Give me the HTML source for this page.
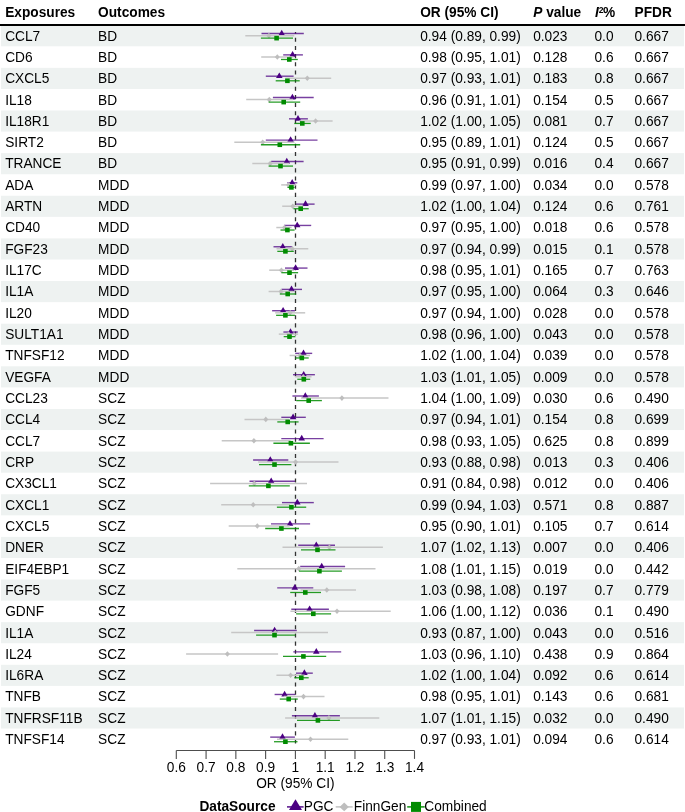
<!DOCTYPE html>
<html><head><meta charset="utf-8"><style>html,body{margin:0;padding:0;background:#fff;overflow:hidden}svg{display:block;will-change:transform}text{font-family:"Liberation Sans",sans-serif}</style></head>
<body><svg width="685" height="812" viewBox="0 0 685 812">
<rect width="685" height="812" fill="#fff"/>
<rect x="1" y="25.20" width="683" height="21.10" fill="#EEF2F1"/>
<rect x="1" y="67.84" width="683" height="21.10" fill="#EEF2F1"/>
<rect x="1" y="110.48" width="683" height="21.10" fill="#EEF2F1"/>
<rect x="1" y="153.12" width="683" height="21.10" fill="#EEF2F1"/>
<rect x="1" y="195.76" width="683" height="21.10" fill="#EEF2F1"/>
<rect x="1" y="238.40" width="683" height="21.10" fill="#EEF2F1"/>
<rect x="1" y="281.04" width="683" height="21.10" fill="#EEF2F1"/>
<rect x="1" y="323.68" width="683" height="21.10" fill="#EEF2F1"/>
<rect x="1" y="366.32" width="683" height="21.10" fill="#EEF2F1"/>
<rect x="1" y="408.96" width="683" height="21.10" fill="#EEF2F1"/>
<rect x="1" y="451.60" width="683" height="21.10" fill="#EEF2F1"/>
<rect x="1" y="494.24" width="683" height="21.10" fill="#EEF2F1"/>
<rect x="1" y="536.88" width="683" height="21.10" fill="#EEF2F1"/>
<rect x="1" y="579.52" width="683" height="21.10" fill="#EEF2F1"/>
<rect x="1" y="622.16" width="683" height="21.10" fill="#EEF2F1"/>
<rect x="1" y="664.80" width="683" height="21.10" fill="#EEF2F1"/>
<rect x="1" y="707.44" width="683" height="21.10" fill="#EEF2F1"/>
<rect x="0" y="24" width="685" height="2" fill="#000"/>
<g font-family="Liberation Sans" font-size="13.7" font-weight="bold" fill="#000">
<text transform="translate(5.20,17.10) scale(1,1.044)" >Exposures</text>
<text transform="translate(98.10,17.10) scale(1,1.044)" >Outcomes</text>
<text transform="translate(420.20,17.10) scale(1,1.044)" >OR (95% CI)</text>
<text transform="translate(533.20,17.10) scale(1,1.044)" ><tspan font-style="italic">P</tspan> value</text>
<text transform="translate(594.90,17.10) scale(1,1.044)" ><tspan font-style="italic">I</tspan></text>
<text transform="translate(598.80,12.70) scale(1,1.044)" font-size="8.6">2</text>
<text transform="translate(602.90,17.10) scale(1,1.044)" >%</text>
<text transform="translate(634.50,17.10) scale(1,1.044)" >PFDR</text>
</g>
<g font-family="Liberation Sans" font-size="13.7" fill="#000">
<text transform="translate(5.20,40.56) scale(1,1.044)" >CCL7</text>
<text transform="translate(98.10,40.56) scale(1,1.044)" >BD</text>
<text transform="translate(420.20,40.56) scale(1,1.044)" >0.94 (0.89, 0.99)</text>
<text transform="translate(533.20,40.56) scale(1,1.044)" >0.023</text>
<text transform="translate(594.50,40.56) scale(1,1.044)" >0.0</text>
<text transform="translate(634.50,40.56) scale(1,1.044)" >0.667</text>
<text transform="translate(5.20,61.88) scale(1,1.044)" >CD6</text>
<text transform="translate(98.10,61.88) scale(1,1.044)" >BD</text>
<text transform="translate(420.20,61.88) scale(1,1.044)" >0.98 (0.95, 1.01)</text>
<text transform="translate(533.20,61.88) scale(1,1.044)" >0.128</text>
<text transform="translate(594.50,61.88) scale(1,1.044)" >0.6</text>
<text transform="translate(634.50,61.88) scale(1,1.044)" >0.667</text>
<text transform="translate(5.20,83.20) scale(1,1.044)" >CXCL5</text>
<text transform="translate(98.10,83.20) scale(1,1.044)" >BD</text>
<text transform="translate(420.20,83.20) scale(1,1.044)" >0.97 (0.93, 1.01)</text>
<text transform="translate(533.20,83.20) scale(1,1.044)" >0.183</text>
<text transform="translate(594.50,83.20) scale(1,1.044)" >0.8</text>
<text transform="translate(634.50,83.20) scale(1,1.044)" >0.667</text>
<text transform="translate(5.20,104.52) scale(1,1.044)" >IL18</text>
<text transform="translate(98.10,104.52) scale(1,1.044)" >BD</text>
<text transform="translate(420.20,104.52) scale(1,1.044)" >0.96 (0.91, 1.01)</text>
<text transform="translate(533.20,104.52) scale(1,1.044)" >0.154</text>
<text transform="translate(594.50,104.52) scale(1,1.044)" >0.5</text>
<text transform="translate(634.50,104.52) scale(1,1.044)" >0.667</text>
<text transform="translate(5.20,125.84) scale(1,1.044)" >IL18R1</text>
<text transform="translate(98.10,125.84) scale(1,1.044)" >BD</text>
<text transform="translate(420.20,125.84) scale(1,1.044)" >1.02 (1.00, 1.05)</text>
<text transform="translate(533.20,125.84) scale(1,1.044)" >0.081</text>
<text transform="translate(594.50,125.84) scale(1,1.044)" >0.7</text>
<text transform="translate(634.50,125.84) scale(1,1.044)" >0.667</text>
<text transform="translate(5.20,147.16) scale(1,1.044)" >SIRT2</text>
<text transform="translate(98.10,147.16) scale(1,1.044)" >BD</text>
<text transform="translate(420.20,147.16) scale(1,1.044)" >0.95 (0.89, 1.01)</text>
<text transform="translate(533.20,147.16) scale(1,1.044)" >0.124</text>
<text transform="translate(594.50,147.16) scale(1,1.044)" >0.5</text>
<text transform="translate(634.50,147.16) scale(1,1.044)" >0.667</text>
<text transform="translate(5.20,168.48) scale(1,1.044)" >TRANCE</text>
<text transform="translate(98.10,168.48) scale(1,1.044)" >BD</text>
<text transform="translate(420.20,168.48) scale(1,1.044)" >0.95 (0.91, 0.99)</text>
<text transform="translate(533.20,168.48) scale(1,1.044)" >0.016</text>
<text transform="translate(594.50,168.48) scale(1,1.044)" >0.4</text>
<text transform="translate(634.50,168.48) scale(1,1.044)" >0.667</text>
<text transform="translate(5.20,189.80) scale(1,1.044)" >ADA</text>
<text transform="translate(98.10,189.80) scale(1,1.044)" >MDD</text>
<text transform="translate(420.20,189.80) scale(1,1.044)" >0.99 (0.97, 1.00)</text>
<text transform="translate(533.20,189.80) scale(1,1.044)" >0.034</text>
<text transform="translate(594.50,189.80) scale(1,1.044)" >0.0</text>
<text transform="translate(634.50,189.80) scale(1,1.044)" >0.578</text>
<text transform="translate(5.20,211.12) scale(1,1.044)" >ARTN</text>
<text transform="translate(98.10,211.12) scale(1,1.044)" >MDD</text>
<text transform="translate(420.20,211.12) scale(1,1.044)" >1.02 (1.00, 1.04)</text>
<text transform="translate(533.20,211.12) scale(1,1.044)" >0.124</text>
<text transform="translate(594.50,211.12) scale(1,1.044)" >0.6</text>
<text transform="translate(634.50,211.12) scale(1,1.044)" >0.761</text>
<text transform="translate(5.20,232.44) scale(1,1.044)" >CD40</text>
<text transform="translate(98.10,232.44) scale(1,1.044)" >MDD</text>
<text transform="translate(420.20,232.44) scale(1,1.044)" >0.97 (0.95, 1.00)</text>
<text transform="translate(533.20,232.44) scale(1,1.044)" >0.018</text>
<text transform="translate(594.50,232.44) scale(1,1.044)" >0.6</text>
<text transform="translate(634.50,232.44) scale(1,1.044)" >0.578</text>
<text transform="translate(5.20,253.76) scale(1,1.044)" >FGF23</text>
<text transform="translate(98.10,253.76) scale(1,1.044)" >MDD</text>
<text transform="translate(420.20,253.76) scale(1,1.044)" >0.97 (0.94, 0.99)</text>
<text transform="translate(533.20,253.76) scale(1,1.044)" >0.015</text>
<text transform="translate(594.50,253.76) scale(1,1.044)" >0.1</text>
<text transform="translate(634.50,253.76) scale(1,1.044)" >0.578</text>
<text transform="translate(5.20,275.08) scale(1,1.044)" >IL17C</text>
<text transform="translate(98.10,275.08) scale(1,1.044)" >MDD</text>
<text transform="translate(420.20,275.08) scale(1,1.044)" >0.98 (0.95, 1.01)</text>
<text transform="translate(533.20,275.08) scale(1,1.044)" >0.165</text>
<text transform="translate(594.50,275.08) scale(1,1.044)" >0.7</text>
<text transform="translate(634.50,275.08) scale(1,1.044)" >0.763</text>
<text transform="translate(5.20,296.40) scale(1,1.044)" >IL1A</text>
<text transform="translate(98.10,296.40) scale(1,1.044)" >MDD</text>
<text transform="translate(420.20,296.40) scale(1,1.044)" >0.97 (0.95, 1.00)</text>
<text transform="translate(533.20,296.40) scale(1,1.044)" >0.064</text>
<text transform="translate(594.50,296.40) scale(1,1.044)" >0.3</text>
<text transform="translate(634.50,296.40) scale(1,1.044)" >0.646</text>
<text transform="translate(5.20,317.72) scale(1,1.044)" >IL20</text>
<text transform="translate(98.10,317.72) scale(1,1.044)" >MDD</text>
<text transform="translate(420.20,317.72) scale(1,1.044)" >0.97 (0.94, 1.00)</text>
<text transform="translate(533.20,317.72) scale(1,1.044)" >0.028</text>
<text transform="translate(594.50,317.72) scale(1,1.044)" >0.0</text>
<text transform="translate(634.50,317.72) scale(1,1.044)" >0.578</text>
<text transform="translate(5.20,339.04) scale(1,1.044)" >SULT1A1</text>
<text transform="translate(98.10,339.04) scale(1,1.044)" >MDD</text>
<text transform="translate(420.20,339.04) scale(1,1.044)" >0.98 (0.96, 1.00)</text>
<text transform="translate(533.20,339.04) scale(1,1.044)" >0.043</text>
<text transform="translate(594.50,339.04) scale(1,1.044)" >0.0</text>
<text transform="translate(634.50,339.04) scale(1,1.044)" >0.578</text>
<text transform="translate(5.20,360.36) scale(1,1.044)" >TNFSF12</text>
<text transform="translate(98.10,360.36) scale(1,1.044)" >MDD</text>
<text transform="translate(420.20,360.36) scale(1,1.044)" >1.02 (1.00, 1.04)</text>
<text transform="translate(533.20,360.36) scale(1,1.044)" >0.039</text>
<text transform="translate(594.50,360.36) scale(1,1.044)" >0.0</text>
<text transform="translate(634.50,360.36) scale(1,1.044)" >0.578</text>
<text transform="translate(5.20,381.68) scale(1,1.044)" >VEGFA</text>
<text transform="translate(98.10,381.68) scale(1,1.044)" >MDD</text>
<text transform="translate(420.20,381.68) scale(1,1.044)" >1.03 (1.01, 1.05)</text>
<text transform="translate(533.20,381.68) scale(1,1.044)" >0.009</text>
<text transform="translate(594.50,381.68) scale(1,1.044)" >0.0</text>
<text transform="translate(634.50,381.68) scale(1,1.044)" >0.578</text>
<text transform="translate(5.20,403.00) scale(1,1.044)" >CCL23</text>
<text transform="translate(98.10,403.00) scale(1,1.044)" >SCZ</text>
<text transform="translate(420.20,403.00) scale(1,1.044)" >1.04 (1.00, 1.09)</text>
<text transform="translate(533.20,403.00) scale(1,1.044)" >0.030</text>
<text transform="translate(594.50,403.00) scale(1,1.044)" >0.6</text>
<text transform="translate(634.50,403.00) scale(1,1.044)" >0.490</text>
<text transform="translate(5.20,424.32) scale(1,1.044)" >CCL4</text>
<text transform="translate(98.10,424.32) scale(1,1.044)" >SCZ</text>
<text transform="translate(420.20,424.32) scale(1,1.044)" >0.97 (0.94, 1.01)</text>
<text transform="translate(533.20,424.32) scale(1,1.044)" >0.154</text>
<text transform="translate(594.50,424.32) scale(1,1.044)" >0.8</text>
<text transform="translate(634.50,424.32) scale(1,1.044)" >0.699</text>
<text transform="translate(5.20,445.64) scale(1,1.044)" >CCL7</text>
<text transform="translate(98.10,445.64) scale(1,1.044)" >SCZ</text>
<text transform="translate(420.20,445.64) scale(1,1.044)" >0.98 (0.93, 1.05)</text>
<text transform="translate(533.20,445.64) scale(1,1.044)" >0.625</text>
<text transform="translate(594.50,445.64) scale(1,1.044)" >0.8</text>
<text transform="translate(634.50,445.64) scale(1,1.044)" >0.899</text>
<text transform="translate(5.20,466.96) scale(1,1.044)" >CRP</text>
<text transform="translate(98.10,466.96) scale(1,1.044)" >SCZ</text>
<text transform="translate(420.20,466.96) scale(1,1.044)" >0.93 (0.88, 0.98)</text>
<text transform="translate(533.20,466.96) scale(1,1.044)" >0.013</text>
<text transform="translate(594.50,466.96) scale(1,1.044)" >0.3</text>
<text transform="translate(634.50,466.96) scale(1,1.044)" >0.406</text>
<text transform="translate(5.20,488.28) scale(1,1.044)" >CX3CL1</text>
<text transform="translate(98.10,488.28) scale(1,1.044)" >SCZ</text>
<text transform="translate(420.20,488.28) scale(1,1.044)" >0.91 (0.84, 0.98)</text>
<text transform="translate(533.20,488.28) scale(1,1.044)" >0.012</text>
<text transform="translate(594.50,488.28) scale(1,1.044)" >0.0</text>
<text transform="translate(634.50,488.28) scale(1,1.044)" >0.406</text>
<text transform="translate(5.20,509.60) scale(1,1.044)" >CXCL1</text>
<text transform="translate(98.10,509.60) scale(1,1.044)" >SCZ</text>
<text transform="translate(420.20,509.60) scale(1,1.044)" >0.99 (0.94, 1.03)</text>
<text transform="translate(533.20,509.60) scale(1,1.044)" >0.571</text>
<text transform="translate(594.50,509.60) scale(1,1.044)" >0.8</text>
<text transform="translate(634.50,509.60) scale(1,1.044)" >0.887</text>
<text transform="translate(5.20,530.92) scale(1,1.044)" >CXCL5</text>
<text transform="translate(98.10,530.92) scale(1,1.044)" >SCZ</text>
<text transform="translate(420.20,530.92) scale(1,1.044)" >0.95 (0.90, 1.01)</text>
<text transform="translate(533.20,530.92) scale(1,1.044)" >0.105</text>
<text transform="translate(594.50,530.92) scale(1,1.044)" >0.7</text>
<text transform="translate(634.50,530.92) scale(1,1.044)" >0.614</text>
<text transform="translate(5.20,552.24) scale(1,1.044)" >DNER</text>
<text transform="translate(98.10,552.24) scale(1,1.044)" >SCZ</text>
<text transform="translate(420.20,552.24) scale(1,1.044)" >1.07 (1.02, 1.13)</text>
<text transform="translate(533.20,552.24) scale(1,1.044)" >0.007</text>
<text transform="translate(594.50,552.24) scale(1,1.044)" >0.0</text>
<text transform="translate(634.50,552.24) scale(1,1.044)" >0.406</text>
<text transform="translate(5.20,573.56) scale(1,1.044)" >EIF4EBP1</text>
<text transform="translate(98.10,573.56) scale(1,1.044)" >SCZ</text>
<text transform="translate(420.20,573.56) scale(1,1.044)" >1.08 (1.01, 1.15)</text>
<text transform="translate(533.20,573.56) scale(1,1.044)" >0.019</text>
<text transform="translate(594.50,573.56) scale(1,1.044)" >0.0</text>
<text transform="translate(634.50,573.56) scale(1,1.044)" >0.442</text>
<text transform="translate(5.20,594.88) scale(1,1.044)" >FGF5</text>
<text transform="translate(98.10,594.88) scale(1,1.044)" >SCZ</text>
<text transform="translate(420.20,594.88) scale(1,1.044)" >1.03 (0.98, 1.08)</text>
<text transform="translate(533.20,594.88) scale(1,1.044)" >0.197</text>
<text transform="translate(594.50,594.88) scale(1,1.044)" >0.7</text>
<text transform="translate(634.50,594.88) scale(1,1.044)" >0.779</text>
<text transform="translate(5.20,616.20) scale(1,1.044)" >GDNF</text>
<text transform="translate(98.10,616.20) scale(1,1.044)" >SCZ</text>
<text transform="translate(420.20,616.20) scale(1,1.044)" >1.06 (1.00, 1.12)</text>
<text transform="translate(533.20,616.20) scale(1,1.044)" >0.036</text>
<text transform="translate(594.50,616.20) scale(1,1.044)" >0.1</text>
<text transform="translate(634.50,616.20) scale(1,1.044)" >0.490</text>
<text transform="translate(5.20,637.52) scale(1,1.044)" >IL1A</text>
<text transform="translate(98.10,637.52) scale(1,1.044)" >SCZ</text>
<text transform="translate(420.20,637.52) scale(1,1.044)" >0.93 (0.87, 1.00)</text>
<text transform="translate(533.20,637.52) scale(1,1.044)" >0.043</text>
<text transform="translate(594.50,637.52) scale(1,1.044)" >0.0</text>
<text transform="translate(634.50,637.52) scale(1,1.044)" >0.516</text>
<text transform="translate(5.20,658.84) scale(1,1.044)" >IL24</text>
<text transform="translate(98.10,658.84) scale(1,1.044)" >SCZ</text>
<text transform="translate(420.20,658.84) scale(1,1.044)" >1.03 (0.96, 1.10)</text>
<text transform="translate(533.20,658.84) scale(1,1.044)" >0.438</text>
<text transform="translate(594.50,658.84) scale(1,1.044)" >0.9</text>
<text transform="translate(634.50,658.84) scale(1,1.044)" >0.864</text>
<text transform="translate(5.20,680.16) scale(1,1.044)" >IL6RA</text>
<text transform="translate(98.10,680.16) scale(1,1.044)" >SCZ</text>
<text transform="translate(420.20,680.16) scale(1,1.044)" >1.02 (1.00, 1.04)</text>
<text transform="translate(533.20,680.16) scale(1,1.044)" >0.092</text>
<text transform="translate(594.50,680.16) scale(1,1.044)" >0.6</text>
<text transform="translate(634.50,680.16) scale(1,1.044)" >0.614</text>
<text transform="translate(5.20,701.48) scale(1,1.044)" >TNFB</text>
<text transform="translate(98.10,701.48) scale(1,1.044)" >SCZ</text>
<text transform="translate(420.20,701.48) scale(1,1.044)" >0.98 (0.95, 1.01)</text>
<text transform="translate(533.20,701.48) scale(1,1.044)" >0.143</text>
<text transform="translate(594.50,701.48) scale(1,1.044)" >0.6</text>
<text transform="translate(634.50,701.48) scale(1,1.044)" >0.681</text>
<text transform="translate(5.20,722.80) scale(1,1.044)" >TNFRSF11B</text>
<text transform="translate(98.10,722.80) scale(1,1.044)" >SCZ</text>
<text transform="translate(420.20,722.80) scale(1,1.044)" >1.07 (1.01, 1.15)</text>
<text transform="translate(533.20,722.80) scale(1,1.044)" >0.032</text>
<text transform="translate(594.50,722.80) scale(1,1.044)" >0.0</text>
<text transform="translate(634.50,722.80) scale(1,1.044)" >0.490</text>
<text transform="translate(5.20,744.12) scale(1,1.044)" >TNFSF14</text>
<text transform="translate(98.10,744.12) scale(1,1.044)" >SCZ</text>
<text transform="translate(420.20,744.12) scale(1,1.044)" >0.97 (0.93, 1.01)</text>
<text transform="translate(533.20,744.12) scale(1,1.044)" >0.094</text>
<text transform="translate(594.50,744.12) scale(1,1.044)" >0.6</text>
<text transform="translate(634.50,744.12) scale(1,1.044)" >0.614</text>
</g>
<line x1="295.5" y1="743.6" x2="295.5" y2="31.9" stroke="#333" stroke-width="1.3" stroke-dasharray="4.08 4.08"/>
<line x1="261.5" y1="33.56" x2="303.8" y2="33.56" stroke="#4B0082" stroke-width="1.4" stroke-opacity="0.75"/>
<path d="M281.70,29.77L284.98,35.46L278.42,35.46Z" fill="#4B0082"/>
<line x1="245.3" y1="35.66" x2="294.3" y2="35.66" stroke="#C6C6C6" stroke-width="1.5"/>
<path d="M266.40,35.66L268.90,32.86L271.40,35.66L268.90,38.46Z" fill="#BEBEBE"/>
<line x1="260.90" y1="38.16" x2="293.00" y2="38.16" stroke="#008B00" stroke-width="1.3" stroke-opacity="0.85"/>
<rect x="274.30" y="35.86" width="4.60" height="4.60" fill="#008B00"/>
<line x1="283.2" y1="54.88" x2="302.9" y2="54.88" stroke="#4B0082" stroke-width="1.4" stroke-opacity="0.75"/>
<path d="M292.60,51.09L295.88,56.78L289.32,56.78Z" fill="#4B0082"/>
<line x1="261.2" y1="56.98" x2="293.6" y2="56.98" stroke="#C6C6C6" stroke-width="1.5"/>
<path d="M274.80,56.98L277.30,54.18L279.80,56.98L277.30,59.78Z" fill="#BEBEBE"/>
<line x1="281.00" y1="59.48" x2="297.80" y2="59.48" stroke="#008B00" stroke-width="1.3" stroke-opacity="0.85"/>
<rect x="287.00" y="57.18" width="4.60" height="4.60" fill="#008B00"/>
<line x1="265.8" y1="76.20" x2="293.6" y2="76.20" stroke="#4B0082" stroke-width="1.4" stroke-opacity="0.75"/>
<path d="M279.30,72.41L282.58,78.10L276.02,78.10Z" fill="#4B0082"/>
<line x1="285.3" y1="78.30" x2="331.2" y2="78.30" stroke="#C6C6C6" stroke-width="1.5"/>
<path d="M304.80,78.30L307.30,75.50L309.80,78.30L307.30,81.10Z" fill="#BEBEBE"/>
<line x1="275.70" y1="80.80" x2="299.70" y2="80.80" stroke="#008B00" stroke-width="1.3" stroke-opacity="0.85"/>
<rect x="285.10" y="78.50" width="4.60" height="4.60" fill="#008B00"/>
<line x1="272.9" y1="97.52" x2="313.7" y2="97.52" stroke="#4B0082" stroke-width="1.4" stroke-opacity="0.75"/>
<path d="M292.40,93.73L295.68,99.42L289.12,99.42Z" fill="#4B0082"/>
<line x1="246.2" y1="99.62" x2="293.0" y2="99.62" stroke="#C6C6C6" stroke-width="1.5"/>
<path d="M266.80,99.62L269.30,96.82L271.80,99.62L269.30,102.42Z" fill="#BEBEBE"/>
<line x1="268.60" y1="102.12" x2="300.20" y2="102.12" stroke="#008B00" stroke-width="1.3" stroke-opacity="0.85"/>
<rect x="281.40" y="99.82" width="4.60" height="4.60" fill="#008B00"/>
<line x1="289.0" y1="118.84" x2="307.9" y2="118.84" stroke="#4B0082" stroke-width="1.4" stroke-opacity="0.75"/>
<path d="M298.00,115.05L301.28,120.74L294.72,120.74Z" fill="#4B0082"/>
<line x1="299.4" y1="120.94" x2="332.6" y2="120.94" stroke="#C6C6C6" stroke-width="1.5"/>
<path d="M313.10,120.94L315.60,118.14L318.10,120.94L315.60,123.74Z" fill="#BEBEBE"/>
<line x1="294.30" y1="123.44" x2="310.70" y2="123.44" stroke="#008B00" stroke-width="1.3" stroke-opacity="0.85"/>
<rect x="300.00" y="121.14" width="4.60" height="4.60" fill="#008B00"/>
<line x1="265.8" y1="140.16" x2="317.5" y2="140.16" stroke="#4B0082" stroke-width="1.4" stroke-opacity="0.75"/>
<path d="M290.60,136.37L293.88,142.06L287.32,142.06Z" fill="#4B0082"/>
<line x1="234.3" y1="142.26" x2="294.5" y2="142.26" stroke="#C6C6C6" stroke-width="1.5"/>
<path d="M260.20,142.26L262.70,139.46L265.20,142.26L262.70,145.06Z" fill="#BEBEBE"/>
<line x1="260.90" y1="144.76" x2="300.20" y2="144.76" stroke="#008B00" stroke-width="1.3" stroke-opacity="0.85"/>
<rect x="277.50" y="142.46" width="4.60" height="4.60" fill="#008B00"/>
<line x1="271.2" y1="161.48" x2="303.6" y2="161.48" stroke="#4B0082" stroke-width="1.4" stroke-opacity="0.75"/>
<path d="M286.80,157.69L290.08,163.38L283.52,163.38Z" fill="#4B0082"/>
<line x1="252.3" y1="163.58" x2="289.1" y2="163.58" stroke="#C6C6C6" stroke-width="1.5"/>
<path d="M267.70,163.58L270.20,160.78L272.70,163.58L270.20,166.38Z" fill="#BEBEBE"/>
<line x1="268.60" y1="166.08" x2="293.00" y2="166.08" stroke="#008B00" stroke-width="1.3" stroke-opacity="0.85"/>
<rect x="278.20" y="163.78" width="4.60" height="4.60" fill="#008B00"/>
<line x1="287.3" y1="182.80" x2="297.3" y2="182.80" stroke="#4B0082" stroke-width="1.4" stroke-opacity="0.75"/>
<path d="M292.20,179.01L295.48,184.70L288.92,184.70Z" fill="#4B0082"/>
<line x1="281.2" y1="184.90" x2="296.0" y2="184.90" stroke="#C6C6C6" stroke-width="1.5"/>
<path d="M286.10,184.90L288.60,182.10L291.10,184.90L288.60,187.70Z" fill="#BEBEBE"/>
<line x1="287.40" y1="187.40" x2="294.60" y2="187.40" stroke="#008B00" stroke-width="1.3" stroke-opacity="0.85"/>
<rect x="289.10" y="185.10" width="4.60" height="4.60" fill="#008B00"/>
<line x1="296.0" y1="204.12" x2="314.6" y2="204.12" stroke="#4B0082" stroke-width="1.4" stroke-opacity="0.75"/>
<path d="M305.50,200.33L308.78,206.02L302.22,206.02Z" fill="#4B0082"/>
<line x1="282.2" y1="206.22" x2="303.3" y2="206.22" stroke="#C6C6C6" stroke-width="1.5"/>
<path d="M290.30,206.22L292.80,203.42L295.30,206.22L292.80,209.02Z" fill="#BEBEBE"/>
<line x1="293.50" y1="208.72" x2="308.70" y2="208.72" stroke="#008B00" stroke-width="1.3" stroke-opacity="0.85"/>
<rect x="298.40" y="206.42" width="4.60" height="4.60" fill="#008B00"/>
<line x1="284.0" y1="225.44" x2="311.2" y2="225.44" stroke="#4B0082" stroke-width="1.4" stroke-opacity="0.75"/>
<path d="M297.20,221.65L300.48,227.34L293.92,227.34Z" fill="#4B0082"/>
<line x1="276.3" y1="227.54" x2="291.6" y2="227.54" stroke="#C6C6C6" stroke-width="1.5"/>
<path d="M282.00,227.54L284.50,224.74L287.00,227.54L284.50,230.34Z" fill="#BEBEBE"/>
<line x1="280.50" y1="230.04" x2="294.60" y2="230.04" stroke="#008B00" stroke-width="1.3" stroke-opacity="0.85"/>
<rect x="285.10" y="227.74" width="4.60" height="4.60" fill="#008B00"/>
<line x1="273.5" y1="246.76" x2="292.2" y2="246.76" stroke="#4B0082" stroke-width="1.4" stroke-opacity="0.75"/>
<path d="M282.80,242.97L286.08,248.66L279.52,248.66Z" fill="#4B0082"/>
<line x1="276.5" y1="248.86" x2="308.3" y2="248.86" stroke="#C6C6C6" stroke-width="1.5"/>
<path d="M289.70,248.86L292.20,246.06L294.70,248.86L292.20,251.66Z" fill="#BEBEBE"/>
<line x1="277.30" y1="251.36" x2="293.80" y2="251.36" stroke="#008B00" stroke-width="1.3" stroke-opacity="0.85"/>
<rect x="283.10" y="249.06" width="4.60" height="4.60" fill="#008B00"/>
<line x1="285.0" y1="268.08" x2="307.5" y2="268.08" stroke="#4B0082" stroke-width="1.4" stroke-opacity="0.75"/>
<path d="M295.60,264.29L298.88,269.98L292.32,269.98Z" fill="#4B0082"/>
<line x1="269.2" y1="270.18" x2="294.2" y2="270.18" stroke="#C6C6C6" stroke-width="1.5"/>
<path d="M278.90,270.18L281.40,267.38L283.90,270.18L281.40,272.98Z" fill="#BEBEBE"/>
<line x1="281.40" y1="272.68" x2="298.10" y2="272.68" stroke="#008B00" stroke-width="1.3" stroke-opacity="0.85"/>
<rect x="287.20" y="270.38" width="4.60" height="4.60" fill="#008B00"/>
<line x1="281.5" y1="289.40" x2="302.0" y2="289.40" stroke="#4B0082" stroke-width="1.4" stroke-opacity="0.75"/>
<path d="M291.50,285.61L294.78,291.30L288.22,291.30Z" fill="#4B0082"/>
<line x1="268.6" y1="291.50" x2="293.5" y2="291.50" stroke="#C6C6C6" stroke-width="1.5"/>
<path d="M278.50,291.50L281.00,288.70L283.50,291.50L281.00,294.30Z" fill="#BEBEBE"/>
<line x1="279.80" y1="294.00" x2="296.20" y2="294.00" stroke="#008B00" stroke-width="1.3" stroke-opacity="0.85"/>
<rect x="285.40" y="291.70" width="4.60" height="4.60" fill="#008B00"/>
<line x1="272.1" y1="310.72" x2="294.9" y2="310.72" stroke="#4B0082" stroke-width="1.4" stroke-opacity="0.75"/>
<path d="M283.10,306.93L286.38,312.62L279.82,312.62Z" fill="#4B0082"/>
<line x1="275.2" y1="312.82" x2="305.2" y2="312.82" stroke="#C6C6C6" stroke-width="1.5"/>
<path d="M287.70,312.82L290.20,310.02L292.70,312.82L290.20,315.62Z" fill="#BEBEBE"/>
<line x1="276.10" y1="315.32" x2="294.90" y2="315.32" stroke="#008B00" stroke-width="1.3" stroke-opacity="0.85"/>
<rect x="283.10" y="313.02" width="4.60" height="4.60" fill="#008B00"/>
<line x1="283.4" y1="332.04" x2="297.8" y2="332.04" stroke="#4B0082" stroke-width="1.4" stroke-opacity="0.75"/>
<path d="M290.50,328.25L293.78,333.94L287.22,333.94Z" fill="#4B0082"/>
<line x1="278.8" y1="334.14" x2="298.1" y2="334.14" stroke="#C6C6C6" stroke-width="1.5"/>
<path d="M286.10,334.14L288.60,331.34L291.10,334.14L288.60,336.94Z" fill="#BEBEBE"/>
<line x1="283.70" y1="336.64" x2="295.40" y2="336.64" stroke="#008B00" stroke-width="1.3" stroke-opacity="0.85"/>
<rect x="287.20" y="334.34" width="4.60" height="4.60" fill="#008B00"/>
<line x1="295.2" y1="353.36" x2="312.2" y2="353.36" stroke="#4B0082" stroke-width="1.4" stroke-opacity="0.75"/>
<path d="M303.50,349.57L306.78,355.26L300.22,355.26Z" fill="#4B0082"/>
<line x1="289.6" y1="355.46" x2="310.1" y2="355.46" stroke="#C6C6C6" stroke-width="1.5"/>
<path d="M297.30,355.46L299.80,352.66L302.30,355.46L299.80,358.26Z" fill="#BEBEBE"/>
<line x1="295.40" y1="357.96" x2="308.70" y2="357.96" stroke="#008B00" stroke-width="1.3" stroke-opacity="0.85"/>
<rect x="299.50" y="355.66" width="4.60" height="4.60" fill="#008B00"/>
<line x1="293.0" y1="374.68" x2="314.9" y2="374.68" stroke="#4B0082" stroke-width="1.4" stroke-opacity="0.75"/>
<path d="M303.70,370.89L306.98,376.58L300.42,376.58Z" fill="#4B0082"/>
<line x1="295.0" y1="376.78" x2="311.5" y2="376.78" stroke="#C6C6C6" stroke-width="1.5"/>
<path d="M300.80,376.78L303.30,373.98L305.80,376.78L303.30,379.58Z" fill="#BEBEBE"/>
<line x1="297.30" y1="379.28" x2="310.20" y2="379.28" stroke="#008B00" stroke-width="1.3" stroke-opacity="0.85"/>
<rect x="301.50" y="376.98" width="4.60" height="4.60" fill="#008B00"/>
<line x1="292.4" y1="396.00" x2="318.9" y2="396.00" stroke="#4B0082" stroke-width="1.4" stroke-opacity="0.75"/>
<path d="M305.30,392.21L308.58,397.90L302.02,397.90Z" fill="#4B0082"/>
<line x1="301.0" y1="398.10" x2="388.5" y2="398.10" stroke="#C6C6C6" stroke-width="1.5"/>
<path d="M339.40,398.10L341.90,395.30L344.40,398.10L341.90,400.90Z" fill="#BEBEBE"/>
<line x1="296.20" y1="400.60" x2="321.90" y2="400.60" stroke="#008B00" stroke-width="1.3" stroke-opacity="0.85"/>
<rect x="306.40" y="398.30" width="4.60" height="4.60" fill="#008B00"/>
<line x1="281.3" y1="417.32" x2="305.8" y2="417.32" stroke="#4B0082" stroke-width="1.4" stroke-opacity="0.75"/>
<path d="M293.10,413.53L296.38,419.22L289.82,419.22Z" fill="#4B0082"/>
<line x1="244.5" y1="419.42" x2="289.0" y2="419.42" stroke="#C6C6C6" stroke-width="1.5"/>
<path d="M263.30,419.42L265.80,416.62L268.30,419.42L265.80,422.22Z" fill="#BEBEBE"/>
<line x1="277.30" y1="421.92" x2="298.60" y2="421.92" stroke="#008B00" stroke-width="1.3" stroke-opacity="0.85"/>
<rect x="285.40" y="419.62" width="4.60" height="4.60" fill="#008B00"/>
<line x1="281.3" y1="438.64" x2="323.6" y2="438.64" stroke="#4B0082" stroke-width="1.4" stroke-opacity="0.75"/>
<path d="M301.70,434.85L304.98,440.54L298.42,440.54Z" fill="#4B0082"/>
<line x1="221.7" y1="440.74" x2="290.6" y2="440.74" stroke="#C6C6C6" stroke-width="1.5"/>
<path d="M251.40,440.74L253.90,437.94L256.40,440.74L253.90,443.54Z" fill="#BEBEBE"/>
<line x1="273.40" y1="443.24" x2="309.90" y2="443.24" stroke="#008B00" stroke-width="1.3" stroke-opacity="0.85"/>
<rect x="288.60" y="440.94" width="4.60" height="4.60" fill="#008B00"/>
<line x1="253.1" y1="459.96" x2="288.3" y2="459.96" stroke="#4B0082" stroke-width="1.4" stroke-opacity="0.75"/>
<path d="M270.30,456.17L273.58,461.86L267.02,461.86Z" fill="#4B0082"/>
<line x1="258.1" y1="462.06" x2="338.5" y2="462.06" stroke="#C6C6C6" stroke-width="1.5"/>
<path d="M293.10,462.06L295.60,459.26L298.10,462.06L295.60,464.86Z" fill="#BEBEBE"/>
<line x1="259.00" y1="464.56" x2="291.40" y2="464.56" stroke="#008B00" stroke-width="1.3" stroke-opacity="0.85"/>
<rect x="272.20" y="462.26" width="4.60" height="4.60" fill="#008B00"/>
<line x1="249.5" y1="481.28" x2="295.0" y2="481.28" stroke="#4B0082" stroke-width="1.4" stroke-opacity="0.75"/>
<path d="M271.20,477.49L274.48,483.18L267.92,483.18Z" fill="#4B0082"/>
<line x1="210.1" y1="483.38" x2="307.0" y2="483.38" stroke="#C6C6C6" stroke-width="1.5"/>
<path d="M251.80,483.38L254.30,480.58L256.80,483.38L254.30,486.18Z" fill="#BEBEBE"/>
<line x1="248.80" y1="485.88" x2="289.80" y2="485.88" stroke="#008B00" stroke-width="1.3" stroke-opacity="0.85"/>
<rect x="266.10" y="483.58" width="4.60" height="4.60" fill="#008B00"/>
<line x1="282.0" y1="502.60" x2="313.8" y2="502.60" stroke="#4B0082" stroke-width="1.4" stroke-opacity="0.75"/>
<path d="M297.30,498.81L300.58,504.50L294.02,504.50Z" fill="#4B0082"/>
<line x1="221.2" y1="504.70" x2="290.0" y2="504.70" stroke="#C6C6C6" stroke-width="1.5"/>
<path d="M250.70,504.70L253.20,501.90L255.70,504.70L253.20,507.50Z" fill="#BEBEBE"/>
<line x1="276.90" y1="507.20" x2="306.20" y2="507.20" stroke="#008B00" stroke-width="1.3" stroke-opacity="0.85"/>
<rect x="289.10" y="504.90" width="4.60" height="4.60" fill="#008B00"/>
<line x1="271.0" y1="523.92" x2="310.1" y2="523.92" stroke="#4B0082" stroke-width="1.4" stroke-opacity="0.75"/>
<path d="M290.00,520.13L293.28,525.82L286.72,525.82Z" fill="#4B0082"/>
<line x1="228.7" y1="526.02" x2="289.6" y2="526.02" stroke="#C6C6C6" stroke-width="1.5"/>
<path d="M254.80,526.02L257.30,523.22L259.80,526.02L257.30,528.82Z" fill="#BEBEBE"/>
<line x1="265.20" y1="528.52" x2="299.00" y2="528.52" stroke="#008B00" stroke-width="1.3" stroke-opacity="0.85"/>
<rect x="279.10" y="526.22" width="4.60" height="4.60" fill="#008B00"/>
<line x1="298.2" y1="545.24" x2="335.0" y2="545.24" stroke="#4B0082" stroke-width="1.4" stroke-opacity="0.75"/>
<path d="M316.30,541.45L319.58,547.14L313.02,547.14Z" fill="#4B0082"/>
<line x1="282.5" y1="547.34" x2="382.9" y2="547.34" stroke="#C6C6C6" stroke-width="1.5"/>
<path d="M326.90,547.34L329.40,544.54L331.90,547.34L329.40,550.14Z" fill="#BEBEBE"/>
<line x1="301.00" y1="549.84" x2="335.50" y2="549.84" stroke="#008B00" stroke-width="1.3" stroke-opacity="0.85"/>
<rect x="315.20" y="547.54" width="4.60" height="4.60" fill="#008B00"/>
<line x1="300.2" y1="566.56" x2="345.1" y2="566.56" stroke="#4B0082" stroke-width="1.4" stroke-opacity="0.75"/>
<path d="M321.70,562.77L324.98,568.46L318.42,568.46Z" fill="#4B0082"/>
<line x1="237.3" y1="568.66" x2="375.5" y2="568.66" stroke="#C6C6C6" stroke-width="1.5"/>
<path d="M296.30,568.66L298.80,565.86L301.30,568.66L298.80,571.46Z" fill="#BEBEBE"/>
<line x1="299.00" y1="571.16" x2="341.90" y2="571.16" stroke="#008B00" stroke-width="1.3" stroke-opacity="0.85"/>
<rect x="317.10" y="568.86" width="4.60" height="4.60" fill="#008B00"/>
<line x1="277.2" y1="587.88" x2="313.3" y2="587.88" stroke="#4B0082" stroke-width="1.4" stroke-opacity="0.75"/>
<path d="M294.80,584.09L298.08,589.78L291.52,589.78Z" fill="#4B0082"/>
<line x1="300.5" y1="589.98" x2="356.0" y2="589.98" stroke="#C6C6C6" stroke-width="1.5"/>
<path d="M324.30,589.98L326.80,587.18L329.30,589.98L326.80,592.78Z" fill="#BEBEBE"/>
<line x1="290.20" y1="592.48" x2="321.00" y2="592.48" stroke="#008B00" stroke-width="1.3" stroke-opacity="0.85"/>
<rect x="303.00" y="590.18" width="4.60" height="4.60" fill="#008B00"/>
<line x1="291.3" y1="609.20" x2="328.9" y2="609.20" stroke="#4B0082" stroke-width="1.4" stroke-opacity="0.75"/>
<path d="M309.60,605.41L312.88,611.10L306.32,611.10Z" fill="#4B0082"/>
<line x1="290.4" y1="611.30" x2="390.7" y2="611.30" stroke="#C6C6C6" stroke-width="1.5"/>
<path d="M334.50,611.30L337.00,608.50L339.50,611.30L337.00,614.10Z" fill="#BEBEBE"/>
<line x1="296.10" y1="613.80" x2="331.10" y2="613.80" stroke="#008B00" stroke-width="1.3" stroke-opacity="0.85"/>
<rect x="311.00" y="611.50" width="4.60" height="4.60" fill="#008B00"/>
<line x1="254.1" y1="630.52" x2="296.8" y2="630.52" stroke="#4B0082" stroke-width="1.4" stroke-opacity="0.75"/>
<path d="M274.60,626.73L277.88,632.42L271.32,632.42Z" fill="#4B0082"/>
<line x1="231.2" y1="632.62" x2="328.0" y2="632.62" stroke="#C6C6C6" stroke-width="1.5"/>
<path d="M272.80,632.62L275.30,629.82L277.80,632.62L275.30,635.42Z" fill="#BEBEBE"/>
<line x1="256.10" y1="635.12" x2="295.40" y2="635.12" stroke="#008B00" stroke-width="1.3" stroke-opacity="0.85"/>
<rect x="272.20" y="632.82" width="4.60" height="4.60" fill="#008B00"/>
<line x1="293.3" y1="651.84" x2="341.2" y2="651.84" stroke="#4B0082" stroke-width="1.4" stroke-opacity="0.75"/>
<path d="M316.30,648.05L319.58,653.74L313.02,653.74Z" fill="#4B0082"/>
<line x1="186.1" y1="653.94" x2="278.1" y2="653.94" stroke="#C6C6C6" stroke-width="1.5"/>
<path d="M224.90,653.94L227.40,651.14L229.90,653.94L227.40,656.74Z" fill="#BEBEBE"/>
<line x1="283.00" y1="656.44" x2="326.20" y2="656.44" stroke="#008B00" stroke-width="1.3" stroke-opacity="0.85"/>
<rect x="301.10" y="654.14" width="4.60" height="4.60" fill="#008B00"/>
<line x1="296.0" y1="673.16" x2="312.8" y2="673.16" stroke="#4B0082" stroke-width="1.4" stroke-opacity="0.75"/>
<path d="M304.40,669.37L307.68,675.06L301.12,675.06Z" fill="#4B0082"/>
<line x1="276.4" y1="675.26" x2="304.6" y2="675.26" stroke="#C6C6C6" stroke-width="1.5"/>
<path d="M288.10,675.26L290.60,672.46L293.10,675.26L290.60,678.06Z" fill="#BEBEBE"/>
<line x1="294.30" y1="677.76" x2="308.70" y2="677.76" stroke="#008B00" stroke-width="1.3" stroke-opacity="0.85"/>
<rect x="299.00" y="675.46" width="4.60" height="4.60" fill="#008B00"/>
<line x1="274.6" y1="694.48" x2="295.2" y2="694.48" stroke="#4B0082" stroke-width="1.4" stroke-opacity="0.75"/>
<path d="M284.60,690.69L287.88,696.38L281.32,696.38Z" fill="#4B0082"/>
<line x1="283.8" y1="696.58" x2="324.5" y2="696.58" stroke="#C6C6C6" stroke-width="1.5"/>
<path d="M301.00,696.58L303.50,693.78L306.00,696.58L303.50,699.38Z" fill="#BEBEBE"/>
<line x1="279.80" y1="699.08" x2="297.80" y2="699.08" stroke="#008B00" stroke-width="1.3" stroke-opacity="0.85"/>
<rect x="286.40" y="696.78" width="4.60" height="4.60" fill="#008B00"/>
<line x1="291.9" y1="715.80" x2="339.9" y2="715.80" stroke="#4B0082" stroke-width="1.4" stroke-opacity="0.75"/>
<path d="M314.90,712.01L318.18,717.70L311.62,717.70Z" fill="#4B0082"/>
<line x1="285.1" y1="717.90" x2="379.3" y2="717.90" stroke="#C6C6C6" stroke-width="1.5"/>
<path d="M326.40,717.90L328.90,715.10L331.40,717.90L328.90,720.70Z" fill="#BEBEBE"/>
<line x1="297.00" y1="720.40" x2="339.90" y2="720.40" stroke="#008B00" stroke-width="1.3" stroke-opacity="0.85"/>
<rect x="315.60" y="718.10" width="4.60" height="4.60" fill="#008B00"/>
<line x1="270.2" y1="737.12" x2="294.9" y2="737.12" stroke="#4B0082" stroke-width="1.4" stroke-opacity="0.75"/>
<path d="M282.50,733.33L285.78,739.02L279.22,739.02Z" fill="#4B0082"/>
<line x1="277.0" y1="739.22" x2="348.3" y2="739.22" stroke="#C6C6C6" stroke-width="1.5"/>
<path d="M308.00,739.22L310.50,736.42L313.00,739.22L310.50,742.02Z" fill="#BEBEBE"/>
<line x1="274.00" y1="741.72" x2="297.50" y2="741.72" stroke="#008B00" stroke-width="1.3" stroke-opacity="0.85"/>
<rect x="283.10" y="739.42" width="4.60" height="4.60" fill="#008B00"/>
<line x1="176.3" y1="750.5" x2="414.50" y2="750.5" stroke="#4D4D4D" stroke-width="1.1"/>
<line x1="176.30" y1="750.5" x2="176.30" y2="758.9" stroke="#4D4D4D" stroke-width="1.1"/>
<text transform="translate(176.30,771.70) scale(1,1.044)" font-family="Liberation Sans" font-size="13.7" text-anchor="middle" fill="#000">0.6</text>
<line x1="206.08" y1="750.5" x2="206.08" y2="758.9" stroke="#4D4D4D" stroke-width="1.1"/>
<text transform="translate(206.08,771.70) scale(1,1.044)" font-family="Liberation Sans" font-size="13.7" text-anchor="middle" fill="#000">0.7</text>
<line x1="235.85" y1="750.5" x2="235.85" y2="758.9" stroke="#4D4D4D" stroke-width="1.1"/>
<text transform="translate(235.85,771.70) scale(1,1.044)" font-family="Liberation Sans" font-size="13.7" text-anchor="middle" fill="#000">0.8</text>
<line x1="265.62" y1="750.5" x2="265.62" y2="758.9" stroke="#4D4D4D" stroke-width="1.1"/>
<text transform="translate(265.62,771.70) scale(1,1.044)" font-family="Liberation Sans" font-size="13.7" text-anchor="middle" fill="#000">0.9</text>
<line x1="295.40" y1="750.5" x2="295.40" y2="758.9" stroke="#4D4D4D" stroke-width="1.1"/>
<text transform="translate(295.40,771.70) scale(1,1.044)" font-family="Liberation Sans" font-size="13.7" text-anchor="middle" fill="#000">1</text>
<line x1="325.18" y1="750.5" x2="325.18" y2="758.9" stroke="#4D4D4D" stroke-width="1.1"/>
<text transform="translate(325.18,771.70) scale(1,1.044)" font-family="Liberation Sans" font-size="13.7" text-anchor="middle" fill="#000">1.1</text>
<line x1="354.95" y1="750.5" x2="354.95" y2="758.9" stroke="#4D4D4D" stroke-width="1.1"/>
<text transform="translate(354.95,771.70) scale(1,1.044)" font-family="Liberation Sans" font-size="13.7" text-anchor="middle" fill="#000">1.2</text>
<line x1="384.73" y1="750.5" x2="384.73" y2="758.9" stroke="#4D4D4D" stroke-width="1.1"/>
<text transform="translate(384.73,771.70) scale(1,1.044)" font-family="Liberation Sans" font-size="13.7" text-anchor="middle" fill="#000">1.3</text>
<line x1="414.50" y1="750.5" x2="414.50" y2="758.9" stroke="#4D4D4D" stroke-width="1.1"/>
<text transform="translate(414.50,771.70) scale(1,1.044)" font-family="Liberation Sans" font-size="13.7" text-anchor="middle" fill="#000">1.4</text>
<text transform="translate(295.40,787.80) scale(1,1.044)" font-family="Liberation Sans" font-size="13.7" text-anchor="middle" fill="#000">OR (95% CI)</text>
<text transform="translate(199.40,810.50) scale(1,1.044)" font-family="Liberation Sans" font-size="13.7" font-weight="bold" fill="#000">DataSource</text>
<line x1="287" y1="806.9" x2="303.6" y2="806.9" stroke="#4B0082" stroke-width="1.4"/>
<path d="M295.5,799.2L302,809.9L289,809.9Z" fill="#4B0082"/>
<text transform="translate(303.80,810.50) scale(1,1.044)" font-family="Liberation Sans" font-size="13.7" fill="#000">PGC</text>
<line x1="335.7" y1="806.9" x2="352.7" y2="806.9" stroke="#BEBEBE" stroke-width="1.4"/>
<path d="M339.6,806.9L344.2,802.5L348.8,806.9L344.2,811.3Z" fill="#BEBEBE"/>
<text transform="translate(353.80,810.50) scale(1,1.044)" font-family="Liberation Sans" font-size="13.7" fill="#000">FinnGen</text>
<line x1="407.2" y1="806.9" x2="424.7" y2="806.9" stroke="#008B00" stroke-width="1.4"/>
<rect x="411" y="801.9" width="10" height="10" fill="#008B00"/>
<text transform="translate(424.30,810.50) scale(1,1.044)" font-family="Liberation Sans" font-size="13.7" fill="#000">Combined</text>
</svg></body></html>
